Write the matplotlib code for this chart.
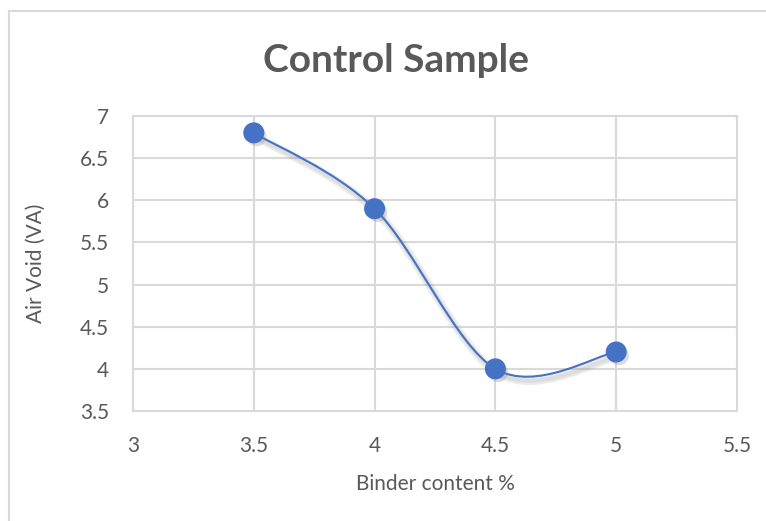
import numpy as np
import matplotlib
matplotlib.use("Agg")
import matplotlib.pyplot as plt
import matplotlib.patheffects as pe
from matplotlib.path import Path
from matplotlib.patches import PathPatch, Rectangle

# ---- data ----
binder = [3.5, 4.0, 4.5, 5.0]
air_void = [6.8, 5.9, 4.0, 4.2]
x_ticks = [3, 3.5, 4, 4.5, 5, 5.5]
y_ticks = [3.5, 4, 4.5, 5, 5.5, 6, 6.5, 7]

BLUE = "#4472C4"
GREY_TXT = "#595959"
GRID = "#D9D9D9"

plt.rcParams['font.family'] = ['Lato', 'DejaVu Sans']


def smooth_path(xs, ys):
    """Excel style smoothed line: cubic bezier, catmull-rom control points."""
    pts = np.column_stack([xs, ys])
    n = len(pts)
    verts = [pts[0]]
    codes = [Path.MOVETO]
    for i in range(n - 1):
        p0 = pts[max(i - 1, 0)]
        p1 = pts[i]
        p2 = pts[i + 1]
        p3 = pts[min(i + 2, n - 1)]
        c1 = p1 + (p2 - p0) / 6.0
        c2 = p2 - (p3 - p1) / 6.0
        verts += [c1, c2, p2]
        codes += [Path.CURVE4] * 3
    return Path(verts, codes)


fig = plt.figure(figsize=(7.66, 5.21), dpi=100)
ax = fig.add_axes([133 / 766, 1 - 411 / 521, (737 - 133) / 766, (411 - 116) / 521])

shadow = [pe.SimpleLineShadow(offset=(2, -3), shadow_color="#999999", alpha=0.18, linewidth=6),
          pe.SimpleLineShadow(offset=(2, -3), shadow_color="#999999", alpha=0.18, linewidth=3),
          pe.Normal()]

line = PathPatch(smooth_path(binder, air_void), facecolor="none", edgecolor=BLUE,
                 linewidth=1.5, zorder=3, path_effects=shadow)
ax.add_patch(line)

ax.scatter(binder, air_void, s=200, color=BLUE, zorder=4,
           path_effects=[pe.SimplePatchShadow(offset=(2, -2.5), shadow_rgbFace="#888888", alpha=0.3), pe.Normal()])

ax.set_xlim(3, 5.5)
ax.set_ylim(3.5, 7)
ax.set_xticks(x_ticks)
ax.set_xticklabels([f"{v:g}" for v in x_ticks])
ax.set_yticks(y_ticks)
ax.set_yticklabels([f"{v:g}" for v in y_ticks])
ax.grid(True, color=GRID, linewidth=1.5)
ax.set_axisbelow(True)
for s in ax.spines.values():
    s.set_color(GRID)
    s.set_linewidth(1.5)
ax.tick_params(length=0, labelsize=15, labelcolor=GREY_TXT)
ax.tick_params(axis='x', pad=18)
ax.tick_params(axis='y', pad=17)

ax.set_xlabel("Binder content %", fontsize=15, color=GREY_TXT, labelpad=13)
ax.set_ylabel("Air Void (VA)", fontsize=15, color=GREY_TXT, labelpad=25)
fig.text(396 / 766, 1 - 60 / 521, "Control Sample", ha="center", va="center",
         fontsize=28, fontweight="bold", color=GREY_TXT)

# outer chart frame (runs off right and bottom)
fig.patches.append(Rectangle((9 / 766, -0.2), 1.2, 1.2 - 11 / 521, transform=fig.transFigure,
                             fill=False, edgecolor=GRID, linewidth=1.5))

fig.savefig("out.png", dpi=100)
